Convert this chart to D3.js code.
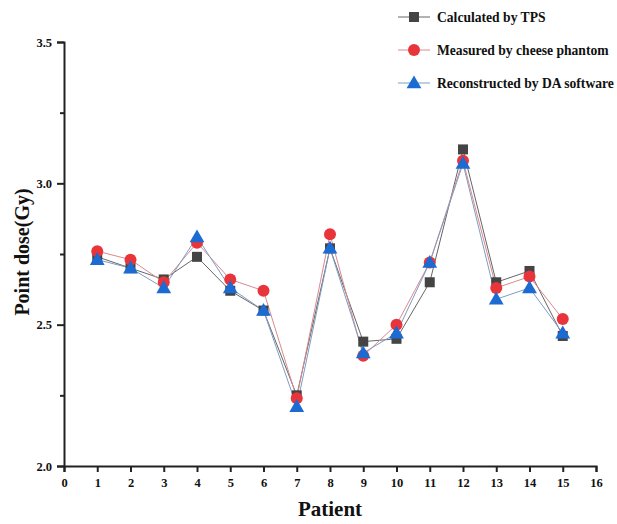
<!DOCTYPE html>
<html>
<head>
<meta charset="utf-8">
<script src="https://cdn.jsdelivr.net/npm/d3@7"></script>
<style>
	body { margin: 0; background: #fff; }
	text { font-family: "Liberation Serif", "Times New Roman", serif; font-weight: bold; fill: #111; }
</style>
</head>
<body>
<svg id="chart" width="617" height="524"></svg>
<script>
var patients = [1, 2, 3, 4, 5, 6, 7, 8, 9, 10, 11, 12, 13, 14, 15];
var tps = [2.74, 2.70, 2.66, 2.74, 2.62, 2.55, 2.25, 2.77, 2.44, 2.45, 2.65, 3.12, 2.65, 2.69, 2.46];
var measured = [2.76, 2.73, 2.65, 2.79, 2.66, 2.62, 2.24, 2.82, 2.39, 2.50, 2.72, 3.08, 2.63, 2.67, 2.52];
var reconstructed = [2.73, 2.70, 2.63, 2.81, 2.63, 2.55, 2.21, 2.77, 2.40, 2.47, 2.72, 3.07, 2.59, 2.63, 2.47];
var xTicks = d3.range(0, 17);
var yTicks = [2.0, 2.5, 3.0, 3.5];
var yMinor = [2.25, 2.75, 3.25];

var series = [
	{ name: "Calculated by TPS", values: tps, shape: "square", fill: "#444444", line: "#666666" },
	{ name: "Measured by cheese phantom", values: measured, shape: "circle", fill: "#e8353b", line: "#d98a8c" },
	{ name: "Reconstructed by DA software", values: reconstructed, shape: "triangle", fill: "#1b6bd2", line: "#7f9cc4" }
];

var svg = d3.select("#chart"),
	margin = { left: 64, right: 21, top: 42, bottom: 58 },
	width = 617, height = 524;

var x = d3.scaleLinear().domain([0, 16]).range([margin.left, width - margin.right]);
var y = d3.scaleLinear().domain([2.0, 3.5]).range([height - margin.bottom, margin.top]);

// axes
svg.append("g")
	.attr("transform", "translate(0," + y(2.0) + ")")
	.call(d3.axisBottom(x).tickValues(xTicks).tickFormat(d3.format("d")).tickSize(6).tickPadding(6));
svg.append("g")
	.attr("transform", "translate(" + x(0) + ",0)")
	.call(d3.axisLeft(y).tickValues(yTicks).tickFormat(d3.format(".1f")).tickSize(7).tickPadding(5));
svg.append("g")
	.attr("transform", "translate(" + x(0) + ",0)")
	.call(d3.axisLeft(y).tickValues(yMinor).tickFormat("").tickSize(4))
	.select(".domain").remove();

svg.selectAll(".domain").attr("stroke", "#222").attr("stroke-width", 2);
svg.selectAll(".tick line").attr("stroke", "#222").attr("stroke-width", 2);
svg.selectAll(".tick text").style("font-family", "Liberation Serif").style("font-weight", "bold")
	.style("font-size", "12.5px").attr("fill", "#111");

// axis titles
svg.append("text")
	.attr("x", (x(0) + x(16)) / 2)
	.attr("y", 516)
	.attr("text-anchor", "middle")
	.style("font-size", "21px")
	.text("Patient");
svg.append("text")
	.attr("transform", "translate(29," + 252 + ") rotate(-90)")
	.attr("text-anchor", "middle")
	.style("font-size", "20px")
	.text("Point dose(Gy)");

var triangle = d3.symbol().type(d3.symbolTriangle).size(95);

function drawMarker(g, s, cx, cy) {
	if (s.shape === "square") {
		g.append("rect").attr("x", cx - 5).attr("y", cy - 5).attr("width", 10).attr("height", 10)
			.attr("fill", s.fill);
	} else if (s.shape === "circle") {
		g.append("circle").attr("cx", cx).attr("cy", cy).attr("r", 6).attr("fill", s.fill);
	} else {
		g.append("path").attr("d", triangle).attr("transform", "translate(" + cx + "," + (cy + 1) + ")")
			.attr("fill", s.fill);
	}
}

var line = d3.line()
	.x(function(d, i) { return x(patients[i]); })
	.y(function(d) { return y(d); });

series.forEach(function(s) {
	svg.append("path")
		.datum(s.values)
		.attr("fill", "none")
		.attr("stroke", s.line)
		.attr("stroke-width", 1)
		.attr("d", line);
});
series.forEach(function(s) {
	var g = svg.append("g");
	s.values.forEach(function(v, i) {
		drawMarker(g, s, x(patients[i]), y(v));
	});
});

// legend
var legend = svg.append("g");
series.forEach(function(s, i) {
	var ly = 17 + i * 33;
	legend.append("line").attr("x1", 398).attr("x2", 430).attr("y1", ly).attr("y2", ly)
		.attr("stroke", s.line).attr("stroke-width", 1);
	drawMarker(legend, s, 414, ly);
	legend.append("text").attr("x", 437).attr("y", ly + 4.5)
		.style("font-size", "13.6px")
		.text(s.name);
});
</script>
</body>
</html>
